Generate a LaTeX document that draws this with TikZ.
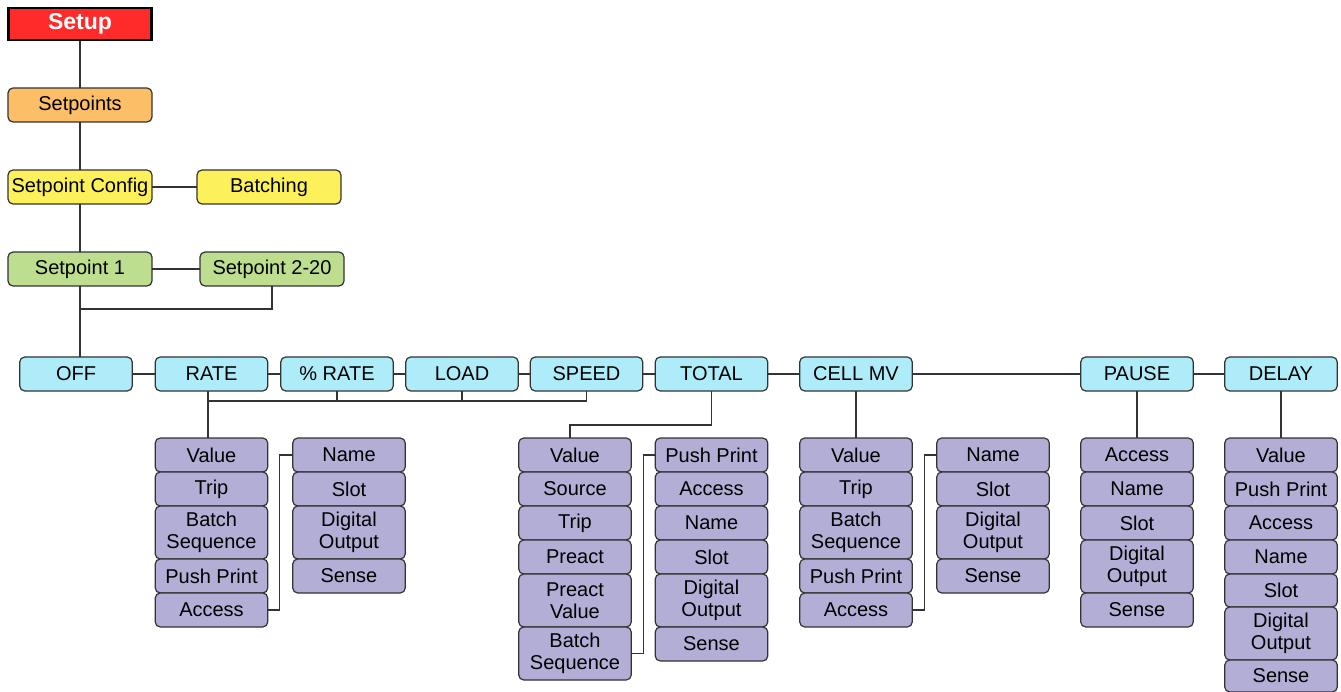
\documentclass[tikz,border=0pt]{standalone}
\usepackage{fontspec}
\setmainfont{Liberation Sans}
\usetikzlibrary{positioning}

\definecolor{setupred}{RGB}{255,42,42}
\definecolor{menuorange}{RGB}{252,190,102}
\definecolor{menuyellow}{RGB}{252,241,90}
\definecolor{menugreen}{RGB}{188,222,142}
\definecolor{menucyan}{RGB}{174,236,250}
\definecolor{menupurple}{RGB}{179,174,214}

\begin{document}
\begin{tikzpicture}[
    x=1pt, y=-1pt,
    link/.style={draw=black!80, line width=1.3pt},
    menu/.style={draw=black!80, line width=1.2pt, rounded corners=5pt, align=center,
        inner sep=0pt, outer sep=0pt, minimum height=34pt,
        font=\fontsize{20}{21.5}\selectfont},
    wide box/.style={menu, minimum width=144pt},
    top box/.style={menu, fill=menucyan, minimum width=112.5pt},
    item/.style={menu, fill=menupurple, minimum width=112.5pt, minimum height=#1pt},
    item/.default=34,
    setup box/.style={draw=black, line width=2.5pt, fill=setupred, text=white,
        minimum width=143pt, minimum height=32pt, inner sep=0pt,
        font=\fontsize{23}{25}\selectfont\bfseries}
]
\useasboundingbox (0,0) rectangle (1341,692);

% Upper menu levels
\node[setup box] (setup) at (80,24) {Setup};
\node[wide box, fill=menuorange] (setpts) at (80,105) {Setpoints};
\node[wide box, fill=menuyellow] (spcfg) at (80,187) {Setpoint Config};
\node[wide box, fill=menuyellow] (batching) at (269,187) {Batching};
\node[wide box, fill=menugreen] (sp1) at (80,269) {Setpoint 1};
\node[wide box, fill=menugreen] (sp220) at (272,269) {Setpoint 2-20};

% Setpoint kinds
\node[top box] (off) at (76,374) {OFF};
\node[top box] (rate) at (211.5,374) {RATE};
\node[top box] (prate) at (337,374) {\% RATE};
\node[top box] (load) at (462,374) {LOAD};
\node[top box] (speed) at (586.5,374) {SPEED};
\node[top box] (total) at (711.5,374) {TOTAL};
\node[top box] (cellmv) at (856,374) {CELL MV};
\node[top box] (pause) at (1137,374) {PAUSE};
\node[top box] (delay) at (1281,374) {DELAY};

% Parameter columns (text/height)
\node[item, anchor=north] (rt1) at (211.5,438) {Value};
\foreach \t/\h [count=\i from 2, remember=\i as \j (initially 1)] in
    {Trip/34, {Batch\\Sequence}/53, Push Print/34, Access/34}
    \node[item=\h, below=0pt of rt\j] (rt\i) {\t};

\node[item, anchor=north] (rtx1) at (349,438) {Name};
\foreach \t/\h [count=\i from 2, remember=\i as \j (initially 1)] in
    {Slot/34, {Digital\\Output}/53, Sense/34}
    \node[item=\h, below=0pt of rtx\j] (rtx\i) {\t};

\node[item, anchor=north] (tt1) at (575,438) {Value};
\foreach \t/\h [count=\i from 2, remember=\i as \j (initially 1)] in
    {Source/34, Trip/34, Preact/34, {Preact\\Value}/53, {Batch\\Sequence}/53}
    \node[item=\h, below=0pt of tt\j] (tt\i) {\t};

\node[item, anchor=north] (ttx1) at (711.5,438) {Push Print};
\foreach \t/\h [count=\i from 2, remember=\i as \j (initially 1)] in
    {Access/34, Name/34, Slot/34, {Digital\\Output}/53, Sense/34}
    \node[item=\h, below=0pt of ttx\j] (ttx\i) {\t};

\node[item, anchor=north] (cm1) at (856,438) {Value};
\foreach \t/\h [count=\i from 2, remember=\i as \j (initially 1)] in
    {Trip/34, {Batch\\Sequence}/53, Push Print/34, Access/34}
    \node[item=\h, below=0pt of cm\j] (cm\i) {\t};

\node[item, anchor=north] (cmx1) at (993,438) {Name};
\foreach \t/\h [count=\i from 2, remember=\i as \j (initially 1)] in
    {Slot/34, {Digital\\Output}/53, Sense/34}
    \node[item=\h, below=0pt of cmx\j] (cmx\i) {\t};

\node[item, anchor=north] (ps1) at (1137,438) {Access};
\foreach \t/\h [count=\i from 2, remember=\i as \j (initially 1)] in
    {Name/34, Slot/34, {Digital\\Output}/53, Sense/34}
    \node[item=\h, below=0pt of ps\j] (ps\i) {\t};

\node[item, anchor=north] (dl1) at (1281,438) {Value};
\foreach \t/\h [count=\i from 2, remember=\i as \j (initially 1)] in
    {Push Print/34, Access/34, Name/34, Slot/33, {Digital\\Output}/53, Sense/32}
    \node[item=\h, below=0pt of dl\j] (dl\i) {\t};

% Connectors
\coordinate (join) at (80,309);
\coordinate (bus) at (208,401);
\draw[link] (setup) -- (setpts);
\draw[link] (setpts) -- (spcfg);
\draw[link] (spcfg) -- (batching);
\draw[link] (spcfg) -- (sp1);
\draw[link] (sp1) -- (sp220);
\draw[link] (sp1.south) -- (sp1.south |- off.north);
\draw[link] (sp220.south) |- (join);
\draw[link] (off) -- (rate) -- (prate) -- (load) -- (speed) -- (total) -- (cellmv) -- (pause) -- (delay);
\draw[link] (bus |- rate.south) -- (bus |- rt1.north);
\draw[link] (bus) -- (speed.south |- bus);
\foreach \k in {prate, load, speed}
    \draw[link] (\k.south) -- (\k.south |- bus);
\draw[link] (total.south) -- ++(0,34) -| ([xshift=-5pt]tt1.north);
\draw[link] (cellmv) -- (cm1);
\draw[link] (pause) -- (ps1);
\draw[link] (delay) -- (dl1);
\draw[link] (rt5.east) -- ++(12,0) |- (rtx1.west);
\draw[link] (tt6.east) -- ++(12,0) |- (ttx1.west);
\draw[link] (cm5.east) -- ++(12,0) |- (cmx1.west);
\end{tikzpicture}
\end{document}
